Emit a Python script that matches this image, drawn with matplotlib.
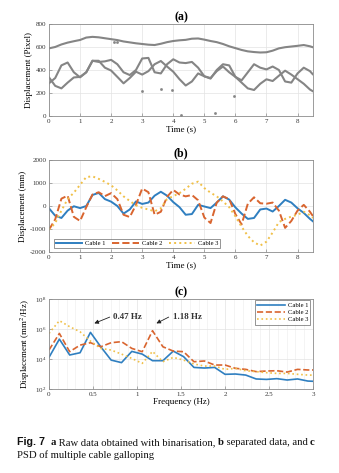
import numpy as np
import matplotlib
matplotlib.use("Agg")
import matplotlib.pyplot as plt

plt.rcParams["font.family"] = ["Liberation Serif", "DejaVu Serif"]
plt.rcParams["mathtext.fontset"] = "stix"
plt.rcParams["axes.unicode_minus"] = False

# ----------------------------------------------------------
# data
# ----------------------------------------------------------
t = [0.0, 0.2, 0.4, 0.6, 0.8, 1.0, 1.2, 1.4, 1.6, 1.8, 2.0, 2.2, 2.4, 2.6, 2.8,
     3.0, 3.2, 3.4, 3.6, 3.8, 4.0, 4.2, 4.4, 4.6, 4.8, 5.0, 5.2, 5.4, 5.6, 5.8,
     6.0, 6.2, 6.4, 6.6, 6.8, 7.0, 7.2, 7.4, 7.6, 7.8, 8.0, 8.2, 8.4, 8.5]

# raw tracks (pixel)
raw_top = [588, 600, 622, 638, 650, 661, 682, 688, 684, 676, 668, 660, 648, 640, 632,
           626, 620, 617, 628, 642, 652, 658, 662, 672, 674, 664, 652, 642, 626, 606,
           590, 574, 562, 556, 552, 554, 568, 588, 598, 604, 610, 617, 606, 597]
raw_mid1 = [336, 262, 240, 290, 335, 340, 380, 480, 480, 420, 395, 340, 284, 330, 385,
            360, 390, 450, 478, 430, 385, 320, 265, 300, 370, 345, 330, 390, 430, 380,
            340, 290, 240, 226, 280, 319, 304, 350, 394, 360, 320, 280, 230, 214]
raw_mid2 = [284, 330, 440, 465, 380, 336, 380, 480, 470, 475, 488, 450, 380, 356, 400,
            500, 505, 380, 370, 450, 493, 465, 460, 470, 420, 345, 325, 400, 450, 440,
            340, 310, 380, 450, 420, 405, 430, 400, 300, 290, 370, 420, 390, 360]
noise_t = [2.1, 2.2, 3.0, 3.6, 3.95, 4.25, 5.35, 5.95]
noise_px = [640, 645, 215, 232, 225, 10, 25, 170]

# separated displacement (mm)
cable1 = [-100, -420, -520, -200, -10, -90, 0, 480, 570, 300, 190, 0, -330, -150, 200,
          90, 150, 450, 620, 450, 170, -50, -380, -350, 50, -20, -90, 150, 420, 280,
          -60, -330, -560, -520, -150, -110, -240, 0, 270, 150, -100, -300, -560, -670]
cable2 = [-1030, -580, 320, 450, -470, -650, -50, 500, 600, 430, 560, 300, -380, -480, 50,
          760, 600, -380, -250, 400, 700, 500, 420, 480, 250, -500, -740, 150, 420, 300,
          -350, -800, 100, 380, 120, 100, 150, -200, -950, -650, -200, 50, -250, -450]
cable3 = [-1030, -740, -200, 300, 580, 920, 1260, 1290, 1180, 1050, 900, 680, 420, 220, 30,
          -80, -150, -230, -100, 300, 430, 560, 750, 970, 1060, 780, 580, 420, 200, -50,
          -450, -900, -1300, -1580, -1720, -1550, -1150, -700, -560, -460, -380, -250, -400, -520]

# PSD (log10 of mm^2/Hz)
freq = [0.0, 0.118, 0.235, 0.353, 0.471, 0.588, 0.706, 0.824, 0.941, 1.059, 1.176,
        1.294, 1.412, 1.529, 1.647, 1.765, 1.882, 2.0, 2.118, 2.235, 2.353, 2.471,
        2.588, 2.706, 2.824, 2.941, 3.059]
psd1 = [4.11, 5.33, 4.27, 4.42, 5.78, 4.82, 3.93, 3.76, 4.51, 4.33, 3.89, 3.89, 4.53,
        4.16, 3.44, 3.40, 3.44, 2.98, 3.00, 2.93, 2.67, 2.64, 2.69, 2.60, 2.67, 2.53, 2.50]
psd2 = [4.60, 5.71, 4.49, 4.93, 5.09, 4.82, 5.09, 5.16, 4.71, 4.49, 5.89, 4.82, 4.53,
        4.49, 3.82, 3.87, 3.60, 3.60, 3.38, 3.31, 3.16, 3.20, 3.22, 3.13, 3.31, 3.27, 3.27]
psd3 = [5.71, 6.56, 6.16, 5.82, 5.20, 4.71, 4.60, 4.33, 4.04, 3.71, 4.51, 3.82, 4.11,
        3.93, 3.67, 3.53, 3.53, 3.31, 3.38, 3.22, 3.16, 3.09, 3.04, 3.04, 2.98, 2.93, 2.92]

labels = ["Cable 1", "Cable 2", "Cable 3"]
colors = ["#2f7fc0", "#d9652f", "#f0c048"]
styles = ["-", "--", ":"]

frame_col = "#8c8c8c"
tick_fs = 5
lab_fs = 6.5


def style_axes(ax):
    for s in ax.spines.values():
        s.set_color(frame_col)
        s.set_linewidth(0.6)
    ax.tick_params(direction="in", length=2, width=0.5, colors=frame_col,
                   labelcolor="#333333", labelsize=tick_fs, pad=2)
    ax.grid(True, color="#e3e3e3", linewidth=0.5)
    ax.set_axisbelow(True)


fig = plt.figure(figsize=(3.39, 4.73), dpi=100)

# ---------------- (a) ----------------
ax1 = fig.add_axes([0.1445, 0.7548, 0.779, 0.1945])
for y in (raw_top, raw_mid1, raw_mid2):
    ax1.plot(t, y, color="#858585", linewidth=1.5, solid_capstyle="round")
ax1.plot(noise_t, noise_px, "s", color="#858585", markersize=0.9)
ax1.set_xlim(0, 8.5)
ax1.set_ylim(0, 800)
ax1.set_yticks([0, 200, 400, 600, 800])
ax1.set_xticks(range(9))
ax1.set_xlabel("Time (s)", fontsize=lab_fs, labelpad=1)
ax1.set_ylabel("Displacement (Pixel)", fontsize=lab_fs, labelpad=2)
ax1.set_title("(a)", fontsize=8.5, fontweight="bold", pad=3)
style_axes(ax1)

# ---------------- (b) ----------------
ax2 = fig.add_axes([0.1445, 0.4672, 0.779, 0.1945])
for y, lab, c, ls in zip((cable1, cable2, cable3), labels, colors, styles):
    ax2.plot(t, y, ls, color=c, linewidth=1.4, label=lab)
ax2.set_xlim(0, 8.5)
ax2.set_ylim(-2000, 2000)
ax2.set_yticks([-2000, -1000, 0, 1000, 2000])
ax2.set_xticks(range(9))
ax2.set_xlabel("Time (s)", fontsize=lab_fs, labelpad=1)
ax2.set_ylabel("Displacement (mm)", fontsize=lab_fs, labelpad=2)
ax2.set_title("(b)", fontsize=8.5, fontweight="bold", pad=3)
style_axes(ax2)
leg = ax2.legend(loc="lower left", bbox_to_anchor=(0.018, 0.04), ncol=3,
                 fontsize=4.8, frameon=True, fancybox=False, handlelength=4.0,
                 columnspacing=1.0, handletextpad=0.4, borderpad=0.3,
                 borderaxespad=0)
leg.get_frame().set_edgecolor("#444444")
leg.get_frame().set_linewidth(0.5)

# ---------------- (c) ----------------
ax3 = fig.add_axes([0.1445, 0.1776, 0.779, 0.190])
for y, lab, c, ls in zip((psd1, psd2, psd3), labels, colors, styles):
    ax3.semilogy(freq, np.power(10.0, y), ls, color=c, linewidth=1.2, label=lab)
ax3.set_xlim(0, 3)
ax3.set_ylim(1e2, 1e8)
ax3.set_yticks([1e2, 1e4, 1e6, 1e8])
ax3.set_xticks([0, 0.5, 1, 1.5, 2, 2.5, 3])
ax3.set_xticklabels(["0", "0.5", "1", "1.5", "2", "2.5", "3"])
ax3.set_xlabel("Frequency (Hz)", fontsize=lab_fs, labelpad=1)
ax3.set_ylabel("Displacement (mm$^2$/Hz)", fontsize=lab_fs, labelpad=2)
ax3.set_title("(c)", fontsize=8.5, fontweight="bold", pad=3)
style_axes(ax3)
ax3.grid(True, which="minor", color="#ececec", linewidth=0.4)
ax3.minorticks_on()
ax3.tick_params(which="minor", length=0)
leg3 = ax3.legend(loc="upper right", bbox_to_anchor=(0.99, 0.985), fontsize=4.8,
                  frameon=True, fancybox=False, handlelength=4.2,
                  handletextpad=0.4, borderpad=0.35, labelspacing=0.2,
                  borderaxespad=0)
leg3.get_frame().set_edgecolor("#444444")
leg3.get_frame().set_linewidth(0.5)

arrow = dict(arrowstyle="-|>", color="#222222", linewidth=0.6,
             mutation_scale=6, shrinkA=0, shrinkB=0)
ax3.annotate("", xy=(0.515, 10**6.38), xytext=(0.69, 10**6.8), arrowprops=arrow)
ax3.text(0.73, 10**6.8, "0.47 Hz", fontsize=6.5, fontweight="bold",
         va="center", ha="left", color="#333333")
ax3.annotate("", xy=(1.22, 10**6.38), xytext=(1.36, 10**6.8), arrowprops=arrow)
ax3.text(1.41, 10**6.8, "1.18 Hz", fontsize=6.5, fontweight="bold",
         va="center", ha="left", color="#333333")

# ---------------- caption ----------------
cap_fs = 7.7
serif = ["Liberation Serif"]
sans = ["Liberation Sans"]
line1 = [("Fig. 7", sans, "bold"), ("  ", serif, "normal"), ("a", serif, "bold"),
         (" Raw data obtained with binarisation, ", serif, "normal"),
         ("b", serif, "bold"), (" separated data, and ", serif, "normal"),
         ("c", serif, "bold")]

renderer = fig.canvas.get_renderer()
x = 17.0
y = 473 - 445.0
for txt, fam, wt in line1:
    tx = fig.text(x / 339, y / 473, txt, fontsize=cap_fs, family=fam,
                  fontweight=wt, va="baseline", ha="left", color="#111111")
    x += tx.get_window_extent(renderer).width
fig.text(17.0 / 339, (y - 13) / 473, "PSD of multiple cable galloping",
         fontsize=cap_fs, family=serif, va="baseline", ha="left", color="#111111")

fig.savefig("out.png", dpi=100)
